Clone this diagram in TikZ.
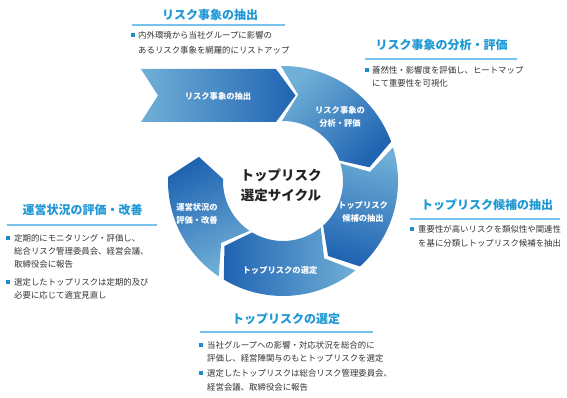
\documentclass[tikz,border=0pt]{standalone}
\usepackage{fontspec}
\setmainfont{Noto Sans CJK JP}
\definecolor{ttlblue}{RGB}{30,152,212}
\definecolor{ulblue}{RGB}{120,195,235}
\definecolor{bulblue}{RGB}{30,140,205}
\definecolor{bodygray}{RGB}{50,50,50}
\definecolor{ctrgray}{RGB}{35,35,35}
\definecolor{segL}{RGB}{112,175,215}
\definecolor{segD}{RGB}{32,100,178}
\tikzset{
  body/.style={font=\fontsize{8.4}{10}\selectfont, text=bodygray, anchor=base west, inner sep=0pt},
  ttl/.style={font=\fontsize{12}{14}\selectfont\bfseries, text=ttlblue, anchor=base, inner sep=0pt},
  bul/.style={fill=bulblue, minimum size=3.6pt, inner sep=0pt},
  uline/.style={draw=ulblue, line width=1.1pt},
  seglab/.style={font=\fontsize{8.3}{13}\selectfont\bfseries, text=white, align=center, inner sep=0pt},
  ctr/.style={font=\fontsize{13.5}{20}\selectfont\bfseries, text=ctrgray, align=center, inner sep=0pt},
}
\newcommand\ringseg[5]{%
  \shade[#5] (#1:115) arc[start angle=#1, end angle=#2, radius=115]
    -- ({#2-#3}:87.5) -- (#2:60) arc[start angle=#2, end angle=#1, radius=60]
    -- ({#1-#4}:87.5) -- cycle;}
\begin{document}
\begin{tikzpicture}[x=1pt,y=1pt]
\useasboundingbox (0,0) rectangle (567,398);
% chevron
\shade[left color=segL, right color=segD] (141,329) -- (276,329) -- (295.5,302.5) -- (276,276) -- (141,276) -- (158,302.5) -- cycle;
\begin{scope}[shift={(283,217)}]
 \ringseg{91}{20}{11}{11}{top color=segL, bottom color=segD, shading angle=45}
 \ringseg{17}{-48}{11}{11}{top color=segL, bottom color=segD, shading angle=-15}
 \ringseg{-51}{-121}{11}{11}{top color=segL, bottom color=segD, shading angle=-90}
 \ringseg{-124}{-182}{14}{11}{top color=segD, bottom color=segL, shading angle=25}
\end{scope}
% segment labels
\node[seglab] (l1) at (218,302) {リスク事象の抽出};
\node[seglab] (l2) at (340,281.5) {リスク事象の\\分析・評価};
\node[seglab] (l3) at (363,186) {トップリスク\\候補の抽出};
\node[seglab] (l5) at (280,128) {トップリスクの選定};
\node[seglab] (l4) at (197,184.5) {運営状況の\\評価・改善};
\node[ctr] (ctr) at (281,213) {トップリスク\\選定サイクル};
% block 1
\node[ttl] (t1) at (210,378.4) {リスク事象の抽出};
\draw[uline] (132,373) -- (285,373);
\node[bul] (b1) at (133,363) {};
\node[body] (x1a) at (138,359.8) {内外環境から当社グループに影響の};
\node[body] (x1b) at (138,344.8) {あるリスク事象を網羅的にリストアップ};
% block 2
\node[ttl] (t2) at (441.5,348.4) {リスク事象の分析・評価};
\draw[uline] (365,339) -- (517,339);
\node[bul] (b2) at (367,328) {};
\node[body] (x2a) at (372,324.8) {蓋然性・影響度を評価し、ヒートマップ};
\node[body] (x2b) at (372,311.8) {にて重要性を可視化};
% block 3
\node[ttl] (t3) at (82.5,183.4) {運営状況の評価・改善};
\draw[uline] (7,173) -- (157,173);
\node[bul] (b3) at (8,160) {};
\node[body] (x3a) at (14,156.8) {定期的にモニタリング・評価し、};
\node[body] (x3b) at (14,143.8) {総合リスク管理委員会、経営会議、};
\node[body] (x3c) at (14,130.8) {取締役会に報告};
\node[bul] (b4) at (8,116) {};
\node[body] (x3d) at (14,112.8) {選定したトップリスクは定期的及び};
\node[body] (x3e) at (14,99.8) {必要に応じて適宜見直し};
% block 4
\node[ttl] (t4) at (487,188.4) {トップリスク候補の抽出};
\draw[uline] (410,179) -- (560,179);
\node[bul] (b5) at (412,169) {};
\node[body] (x4a) at (418,165.8) {重要性が高いリスクを類似性や関連性};
\node[body] (x4b) at (418,151.8) {を基に分類しトップリスク候補を抽出};
% block 5
\node[ttl] (t5) at (286,74.4) {トップリスクの選定};
\draw[uline] (200,66) -- (373,66);
\node[bul] (b6) at (201,53) {};
\node[body] (x5a) at (207,49.8) {当社グループへの影響・対応状況を総合的に};
\node[body] (x5b) at (207,36.8) {評価し、経営陣関与のもとトップリスクを選定};
\node[bul] (b7) at (201,25) {};
\node[body] (x5c) at (207,21.8) {選定したトップリスクは総合リスク管理委員会、};
\node[body] (x5d) at (207,7.8) {経営会議、取締役会に報告};
\end{tikzpicture}
\end{document}
